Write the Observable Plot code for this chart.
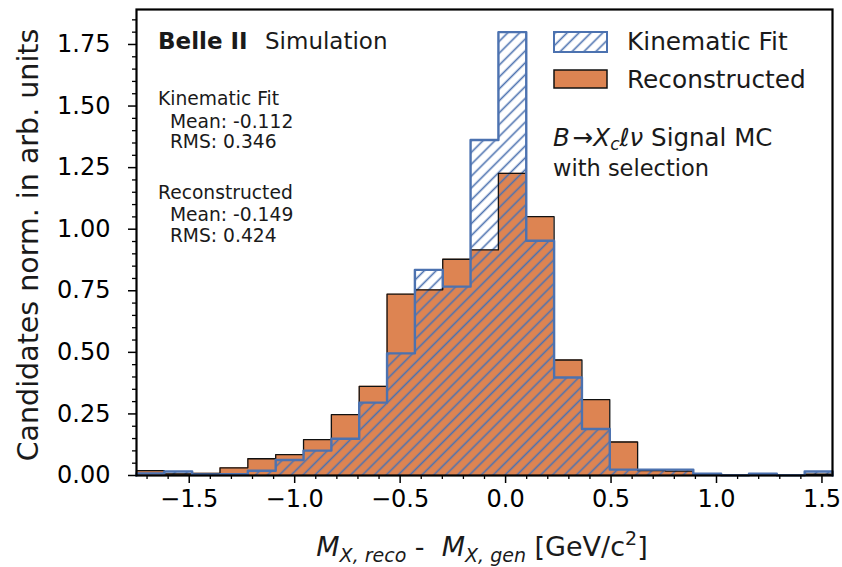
<!DOCTYPE html>
<html><head><meta charset="utf-8">
<script src="https://cdn.jsdelivr.net/npm/d3@7"></script>
<script src="https://cdn.jsdelivr.net/npm/@observablehq/plot@0.6"></script>
<style>
body{margin:0;background:#fff;}
#chart svg text{font-family:"DejaVu Sans";}
</style>
</head><body><div id="chart"></div>
<script>
// bin edges (25 bins)
const binEdges = [-1.75, -1.618, -1.486, -1.354, -1.222, -1.09, -0.958, -0.826, -0.694, -0.562, -0.43, -0.298, -0.166, -0.034, 0.098, 0.23, 0.362, 0.494, 0.626, 0.758, 0.89, 1.022, 1.154, 1.286, 1.418, 1.55];
// Reconstructed (orange, stepfilled)
const recoValues = [0.020, 0.006, 0.009, 0.031, 0.068, 0.085, 0.146, 0.247, 0.362, 0.736, 0.754, 0.878, 0.916, 1.227, 1.051, 0.469, 0.308, 0.136, 0.020, 0.018, 0.004, 0.002, 0.003, 0.002, 0.005];
// Kinematic Fit (blue hatched step)
const kinFitValues = [0.008, 0.016, 0.004, 0.005, 0.019, 0.063, 0.101, 0.149, 0.296, 0.496, 0.835, 0.767, 1.362, 1.800, 0.953, 0.398, 0.189, 0.024, 0.024, 0.024, 0.007, 0.001, 0.007, 0.001, 0.016];
const xTicks = [-1.5, -1.0, -0.5, 0.0, 0.5, 1.0, 1.5];
const yTicks = [0, 0.25, 0.5, 0.75, 1.0, 1.25, 1.5, 1.75];
const seriesNames = ["Kinematic Fit", "Reconstructed"];
const statLines = [
  ["Kinematic Fit", "  Mean: -0.112", "  RMS: 0.346"],
  ["Reconstructed", "  Mean: -0.149", "  RMS: 0.424"]
];

const ORANGE = "#dd8452", BLUE = "#4c72b0";

function areaPts(vals) {
  const pts = vals.map((v, i) => ({x: binEdges[i], y: v}));
  pts.push({x: binEdges[binEdges.length - 1], y: vals[vals.length - 1]});
  return pts;
}
function outlinePts(vals) {
  return [{x: binEdges[0], y: 0}, ...areaPts(vals), {x: binEdges[binEdges.length - 1], y: 0}];
}
const xMinor = d3.range(-17, 16).map(i => i / 10).filter(v => !xTicks.some(t => Math.abs(t - v) < 1e-9));
const yMinor = d3.range(0, 38).map(i => i * 0.05).filter(v => !yTicks.some(t => Math.abs(t - v) < 1e-9));

const plot = Plot.plot({
  width: 842, height: 567,
  marginLeft: 136, marginRight: 10, marginTop: 9, marginBottom: 92,
  x: {domain: [binEdges[0], binEdges[binEdges.length - 1]]},
  y: {domain: [0, 1.892]},
  style: {fontFamily: "DejaVu Sans", fontSize: "24px", color: "black", background: "white"},
  marks: [
    Plot.area(areaPts(recoValues), {x1: "x", y1: 0, y2: "y", curve: "step-after", fill: ORANGE}),
    Plot.area(areaPts(kinFitValues), {x1: "x", y1: 0, y2: "y", curve: "step-after", fill: "url(#kfHatch)"}),
    Plot.line(outlinePts(recoValues), {x: "x", y: "y", curve: "step-after", stroke: "#111", strokeWidth: 1.3}),
    Plot.line(outlinePts(kinFitValues), {x: "x", y: "y", curve: "step-after", stroke: BLUE, strokeWidth: 2.4}),
    Plot.axisX({ticks: xMinor, tickSize: 4, tickFormat: () => "", label: null, strokeWidth: 1.3}),
    Plot.axisX({ticks: xTicks, tickSize: 8, tickPadding: 6, tickFormat: d3.format(".1f"), label: null, strokeWidth: 1.5, fontSize: 24}),
    Plot.axisY({ticks: yMinor, tickSize: 4, tickFormat: () => "", label: null, strokeWidth: 1.3}),
    Plot.axisY({ticks: yTicks, tickSize: 8, tickPadding: 18, tickFormat: d3.format(".2f"), label: null, strokeWidth: 1.5, fontSize: 24}),
    Plot.frame({stroke: "black", strokeWidth: 2.2})
  ]
});

const svg = d3.select(plot);
const defs = svg.insert("defs", ":first-child");
const pat = defs.append("pattern").attr("id", "kfHatch").attr("patternUnits", "userSpaceOnUse")
  .attr("width", 8.4).attr("height", 8.4).attr("patternTransform", "rotate(45)");
pat.append("line").attr("x1", 4.2).attr("y1", -1).attr("x2", 4.2).attr("y2", 9.4)
  .attr("stroke", BLUE).attr("stroke-width", 1.6);

const g = svg.append("g").attr("font-family", "DejaVu Sans").attr("fill", "#1a1a1a")
  .attr("text-anchor", "start");

// Belle II Simulation
const t1 = g.append("text").attr("x", 158).attr("y", 49).attr("font-size", 23);
t1.append("tspan").attr("font-weight", "bold").text("Belle II");
t1.append("tspan").attr("x", 265).text("Simulation");

// stats
const statBaselines = [[105, 128, 148], [199, 221, 242]];
statLines.forEach((lines, k) => lines.forEach((s, j) => {
  g.append("text").attr("x", 158).attr("y", statBaselines[k][j]).attr("font-size", 18.7)
    .attr("xml:space", "preserve").style("white-space", "pre").text(s);
}));

// legend
g.append("rect").attr("x", 554).attr("y", 32).attr("width", 53).attr("height", 20)
  .attr("fill", "url(#kfHatch)").attr("stroke", BLUE).attr("stroke-width", 2);
g.append("rect").attr("x", 554).attr("y", 70).attr("width", 53).attr("height", 18)
  .attr("fill", ORANGE).attr("stroke", "#111").attr("stroke-width", 1.5);
g.append("text").attr("x", 627).attr("y", 50).attr("font-size", 24.8).text(seriesNames[0]);
g.append("text").attr("x", 627).attr("y", 88).attr("font-size", 24.8).text(seriesNames[1]);

// process label
const t2 = g.append("text").attr("x", 553).attr("y", 146).attr("font-size", 24.5);
t2.append("tspan").attr("font-style", "italic").text("B");
t2.append("tspan").attr("dx", 3).text("→");
t2.append("tspan").attr("font-style", "italic").text("X");
t2.append("tspan").attr("font-style", "italic").attr("font-size", 17).attr("dy", 4).text("c");
t2.append("tspan").attr("font-style", "italic").attr("dy", -4).text("ℓν");
t2.append("tspan").text(" Signal MC");
g.append("text").attr("x", 553).attr("y", 176).attr("font-size", 22.5).text("with selection");

// x label
const t3 = g.append("text").attr("x", 482).attr("y", 556).attr("font-size", 27).attr("text-anchor", "middle")
  .attr("xml:space", "preserve").style("white-space", "pre");
t3.append("tspan").attr("font-style", "italic").text("M");
t3.append("tspan").attr("font-style", "italic").attr("font-size", 19).attr("dy", 6).text("X, reco");
t3.append("tspan").attr("dy", -6).text(" -  ");
t3.append("tspan").attr("font-style", "italic").text("M");
t3.append("tspan").attr("font-style", "italic").attr("font-size", 19).attr("dy", 6).text("X, gen");
t3.append("tspan").attr("dy", -6).text(" [GeV/c");
t3.append("tspan").attr("font-size", 19).attr("dy", -11).text("2");
t3.append("tspan").attr("dy", 11).text("]");

// y label
g.append("text").attr("transform", "translate(38,245) rotate(-90)").attr("text-anchor", "middle")
  .attr("font-size", 28.5).text("Candidates norm. in arb. units");

document.getElementById("chart").appendChild(plot);
</script>
</body></html>
